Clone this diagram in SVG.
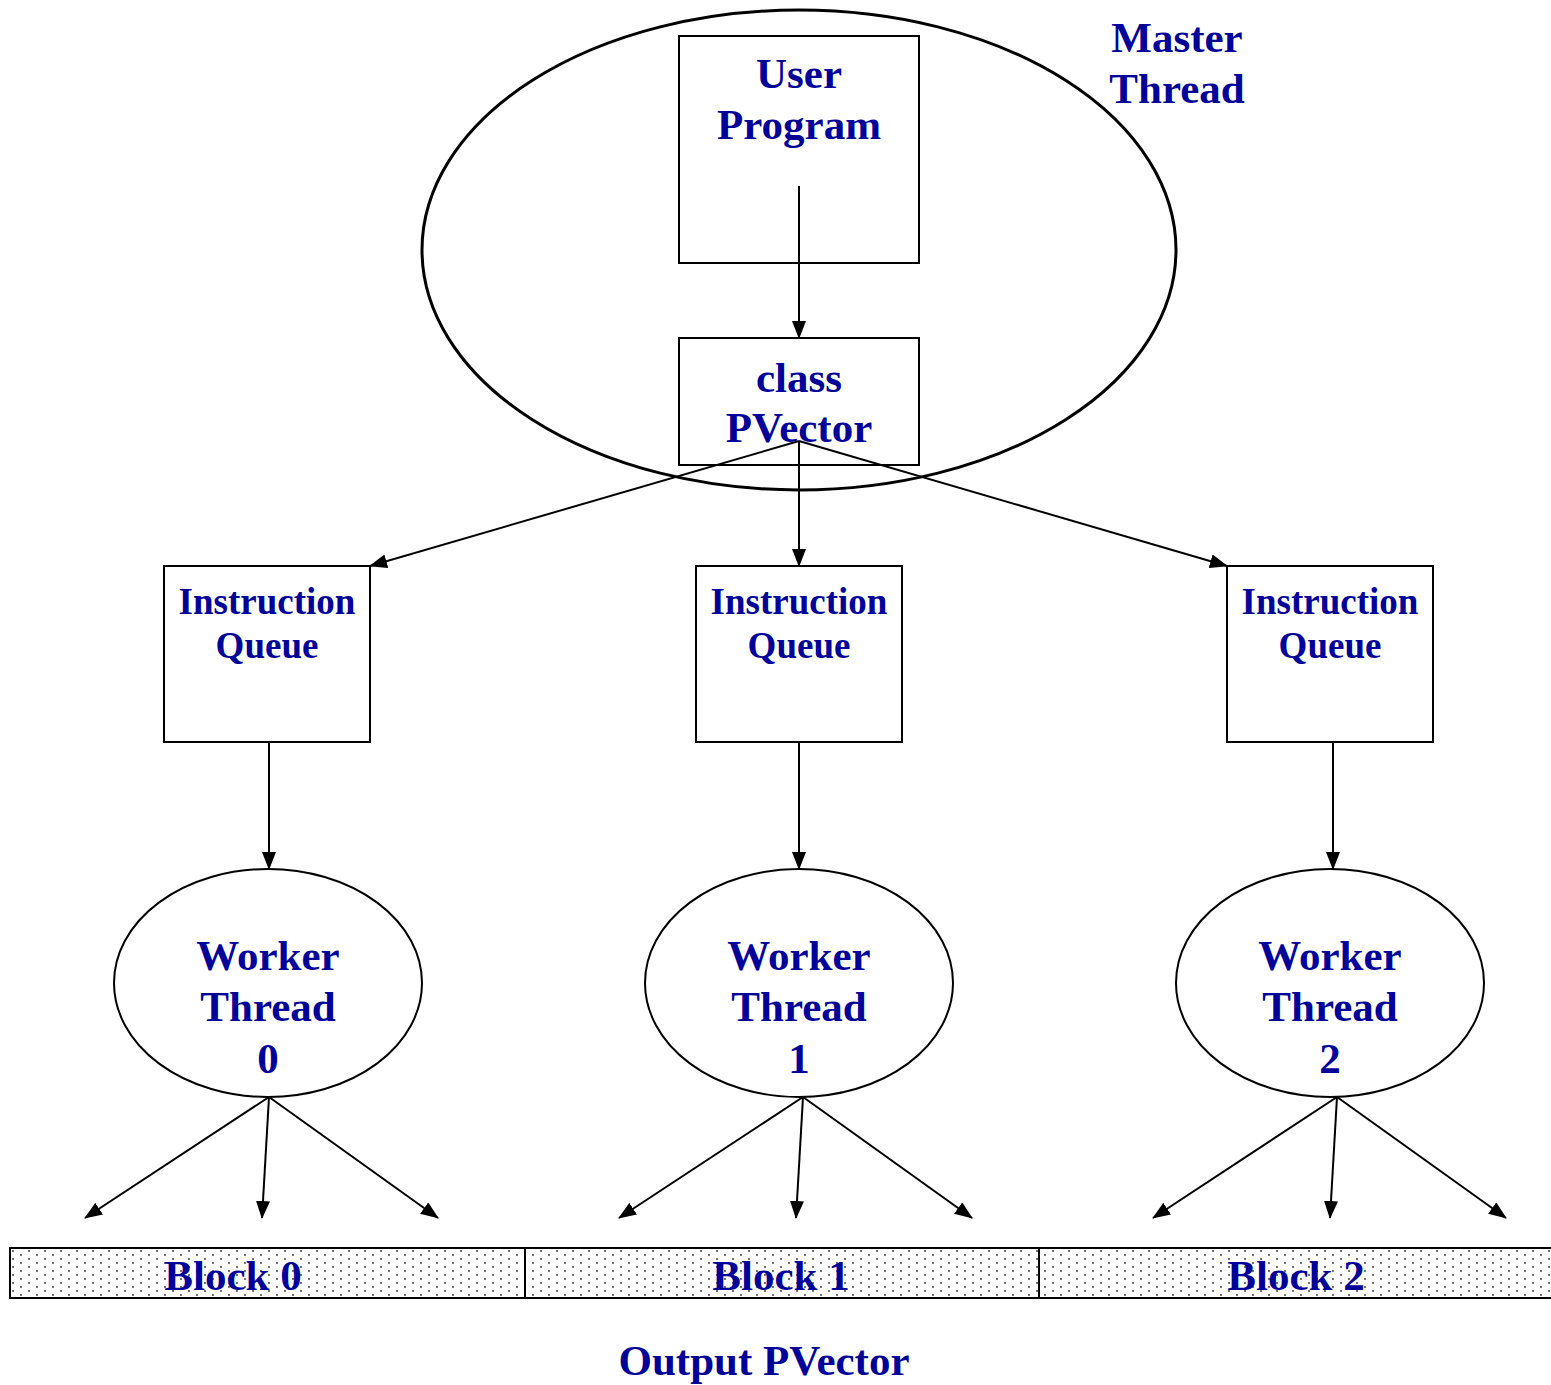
<svg xmlns="http://www.w3.org/2000/svg" width="1551" height="1385" viewBox="0 0 1551 1385">
<style>
.t{font-family:"Liberation Serif","Times New Roman",serif;font-weight:bold;fill:#000099;text-anchor:middle}
.b{font-size:43px}
.s{font-size:37px}
.box{fill:none;stroke:#000;stroke-width:2}
.c{stroke:#000;stroke-width:2;fill:none;marker-end:url(#ah)}
.l{stroke:#000;stroke-width:2;fill:none}
</style>
<defs>
<marker id="ah" markerWidth="18" markerHeight="14" refX="17" refY="7" orient="auto" markerUnits="userSpaceOnUse">
<path d="M0,0 L18,7 L0,14 z" fill="#000"/>
</marker>
<pattern id="dots" width="16" height="8" patternUnits="userSpaceOnUse" x="10" y="1248">
<rect x="0" y="0" width="16" height="8" fill="#fff"/>
<circle cx="3" cy="3" r="0.9" fill="#333"/>
<circle cx="11" cy="7" r="0.9" fill="#333"/>
</pattern>
</defs>
<rect width="1551" height="1385" fill="#fff"/>
<g id="master">
<ellipse cx="799" cy="250" rx="377" ry="240" fill="none" stroke="#000" stroke-width="3"/>
<text class="t b" x="1177" y="52">Master</text>
<text class="t b" x="1177" y="103">Thread</text>
</g>
<g id="user-program">
<rect class="box" x="679" y="36" width="240" height="227"/>
<text class="t b" x="799" y="88">User</text>
<text class="t b" x="799" y="139">Program</text>
</g>
<g id="pvector">
<rect class="box" x="679" y="338" width="240" height="127"/>
<text class="t b" x="799" y="392">class</text>
<text class="t b" x="799" y="442">PVector</text>
</g>
<g id="queue0">
<rect class="box" x="164" y="566" width="206" height="176"/>
<text class="t s" x="267" y="614">Instruction</text>
<text class="t s" x="267" y="658">Queue</text>
</g>
<g id="queue1">
<rect class="box" x="696" y="566" width="206" height="176"/>
<text class="t s" x="799" y="614">Instruction</text>
<text class="t s" x="799" y="658">Queue</text>
</g>
<g id="queue2">
<rect class="box" x="1227" y="566" width="206" height="176"/>
<text class="t s" x="1330" y="614">Instruction</text>
<text class="t s" x="1330" y="658">Queue</text>
</g>
<g id="worker0">
<ellipse cx="268" cy="983" rx="154" ry="114" fill="none" stroke="#000" stroke-width="2"/>
<text class="t b" x="268" y="970">Worker</text>
<text class="t b" x="268" y="1021">Thread</text>
<text class="t b" x="268" y="1073">0</text>
</g>
<g id="worker1">
<ellipse cx="799" cy="983" rx="154" ry="114" fill="none" stroke="#000" stroke-width="2"/>
<text class="t b" x="799" y="970">Worker</text>
<text class="t b" x="799" y="1021">Thread</text>
<text class="t b" x="799" y="1073">1</text>
</g>
<g id="worker2">
<ellipse cx="1330" cy="983" rx="154" ry="114" fill="none" stroke="#000" stroke-width="2"/>
<text class="t b" x="1330" y="970">Worker</text>
<text class="t b" x="1330" y="1021">Thread</text>
<text class="t b" x="1330" y="1073">2</text>
</g>
<g id="output">
<rect x="10" y="1248" width="1545" height="50" fill="url(#dots)"/>
<rect class="box" x="10" y="1248" width="515" height="50"/>
<rect class="box" x="525" y="1248" width="514" height="50"/>
<path class="l" d="M1039,1248 H1551 M1039,1298 H1551 M1039,1248 V1298"/>
<text class="t b" x="233" y="1290">Block 0</text>
<text class="t b" x="781" y="1290">Block 1</text>
<text class="t b" x="1296" y="1290">Block 2</text>
<text class="t b" x="764" y="1375">Output PVector</text>
</g>
<g id="connectors">
<line class="c" x1="799" y1="186" x2="799" y2="338"/>
<line class="c" x1="799" y1="441" x2="370" y2="566"/>
<line class="c" x1="799" y1="441" x2="799" y2="566"/>
<line class="c" x1="799" y1="441" x2="1227" y2="566"/>
<line class="c" x1="269" y1="742" x2="269" y2="869"/>
<line class="c" x1="799" y1="742" x2="799" y2="869"/>
<line class="c" x1="1333" y1="742" x2="1333" y2="869"/>
<line class="c" x1="269" y1="1097" x2="85" y2="1218"/>
<line class="c" x1="269" y1="1097" x2="262" y2="1218"/>
<line class="c" x1="269" y1="1097" x2="438" y2="1218"/>
<line class="c" x1="803" y1="1097" x2="619" y2="1218"/>
<line class="c" x1="803" y1="1097" x2="796" y2="1218"/>
<line class="c" x1="803" y1="1097" x2="972" y2="1218"/>
<line class="c" x1="1337" y1="1097" x2="1153" y2="1218"/>
<line class="c" x1="1337" y1="1097" x2="1330" y2="1218"/>
<line class="c" x1="1337" y1="1097" x2="1506" y2="1218"/>
</g>
</svg>
